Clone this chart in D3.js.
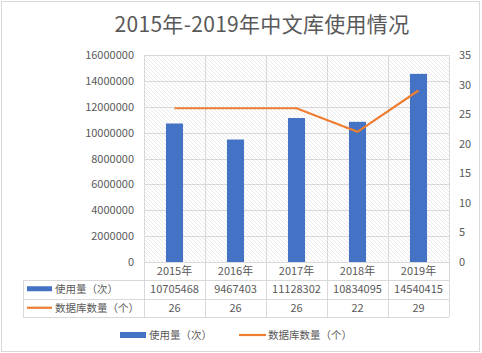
<!DOCTYPE html>
<html>
<head>
<meta charset="utf-8">
<script src="https://cdn.jsdelivr.net/npm/d3@7"></script>
<style>
	body { margin: 0; background: #fff; }
	text { font-family: "Noto Sans CJK SC", "Noto Sans", sans-serif; fill: #595959; }
</style>
</head>
<body>
<div id="graphic"></div>
<script>
// chart data
let years = ['2015年', '2016年', '2017年', '2018年', '2019年'];
let usage = [10705468, 9467403, 11128302, 10834095, 14540415];
let dbCount = [26, 26, 26, 22, 29];
let seriesNames = ['使用量（次）', '数据库数量（个）'];
let leftTicks = [0, 2000000, 4000000, 6000000, 8000000, 10000000, 12000000, 14000000, 16000000];
let rightTicks = [0, 5, 10, 15, 20, 25, 30, 35];

const width = 482, height = 353;
const margin = { top: 55, right: 33, bottom: 91, left: 144 };
const chart_width = width - margin.left - margin.right;
const chart_height = height - margin.top - margin.bottom;
const blue = '#4472C4', orange = '#ED7D31', grid = '#d9d9d9';

const svgRoot = d3.select('#graphic')
	.append('svg')
	.attr('width', width)
	.attr('height', height);

// outer frame
svgRoot.append('rect')
	.attr('x', 1.5).attr('y', 1.5)
	.attr('width', width - 4).attr('height', height - 3)
	.attr('fill', '#fff')
	.attr('stroke', grid);

// hatch pattern for the plot area
const pattern = svgRoot.append('defs')
	.append('pattern')
	.attr('id', 'hatch')
	.attr('patternUnits', 'userSpaceOnUse')
	.attr('width', 4).attr('height', 4);
pattern.append('path')
	.attr('d', 'M0,0L4,4M-1,3L1,5M3,-1L5,1')
	.attr('stroke', '#e2e2e2')
	.attr('stroke-width', 0.7);

// title
svgRoot.append('text')
	.attr('x', 262)
	.attr('y', 32)
	.attr('text-anchor', 'middle')
	.style('font-size', '21px')
	.style('letter-spacing', '0.3px')
	.attr('fill', '#666')
	.text('2015年-2019年中文库使用情况');

const svg = svgRoot.append('g')
	.attr('transform', 'translate(' + margin.left + ',' + margin.top + ')');

// scales
const x = d3.scaleBand().domain(years).range([0, chart_width]).paddingInner(0).paddingOuter(0);
const y = d3.scaleLinear().domain([0, 16000000]).range([chart_height, 0]);
const y2 = d3.scaleLinear().domain([0, 35]).range([chart_height, 0]);

svg.append('rect')
	.attr('width', chart_width)
	.attr('height', chart_height)
	.attr('fill', 'url(#hatch)');

// gridlines
svg.append('g')
	.selectAll('line')
	.data(leftTicks)
	.join('line')
	.attr('x1', 0).attr('x2', chart_width)
	.attr('y1', d => Math.round(y(d)) + 0.5).attr('y2', d => Math.round(y(d)) + 0.5)
	.attr('stroke', grid);

const bounds = years.map(d => x(d)).concat([chart_width]);
const tableBottom = chart_height + 55;
svg.append('g')
	.selectAll('line')
	.data(bounds)
	.join('line')
	.attr('x1', d => Math.round(d) + 0.5).attr('x2', d => Math.round(d) + 0.5)
	.attr('y1', 0).attr('y2', tableBottom)
	.attr('stroke', grid);

// axes labels
const yAxis = d3.axisLeft(y).tickValues(leftTicks).tickSize(0).tickPadding(10).tickFormat(d3.format('d'));
svg.append('g').attr('class', 'y axis').call(yAxis)
	.call(g => g.select('.domain').remove())
	.selectAll('text').style('font-size', '11px').attr('fill', '#595959');

const yAxis2 = d3.axisRight(y2).tickValues(rightTicks).tickSize(0).tickPadding(10);
svg.append('g').attr('class', 'y axis').attr('transform', 'translate(' + chart_width + ',0)').call(yAxis2)
	.call(g => g.select('.domain').remove())
	.selectAll('text').style('font-size', '11px').attr('fill', '#595959');

// bars
const barW = x.bandwidth() * 0.28;
svg.append('g')
	.selectAll('rect')
	.data(usage)
	.join('rect')
	.attr('x', (d, i) => x(years[i]) + (x.bandwidth() - barW) / 2)
	.attr('y', d => y(d))
	.attr('width', barW)
	.attr('height', d => chart_height - y(d))
	.attr('fill', blue);

// line
const line = d3.line()
	.x((d, i) => x(years[i]) + x.bandwidth() / 2)
	.y(d => y2(d));
svg.append('path')
	.datum(dbCount)
	.attr('d', line)
	.attr('fill', 'none')
	.attr('stroke', orange)
	.attr('stroke-width', 2.2);

// data table
const tLeft = 23 - margin.left;
const rowTop = chart_height + 18, rowH = 18.5;
svg.append('g')
	.selectAll('line')
	.data([rowTop, rowTop + rowH, rowTop + 2 * rowH])
	.join('line')
	.attr('x1', tLeft).attr('x2', chart_width)
	.attr('y1', d => Math.round(d) + 0.5).attr('y2', d => Math.round(d) + 0.5)
	.attr('stroke', grid);
svg.append('line')
	.attr('x1', tLeft + 0.5).attr('x2', tLeft + 0.5)
	.attr('y1', rowTop).attr('y2', rowTop + 2 * rowH)
	.attr('stroke', grid);

svg.append('g')
	.selectAll('text')
	.data(years)
	.join('text')
	.attr('x', d => x(d) + x.bandwidth() / 2)
	.attr('y', chart_height + 13)
	.attr('text-anchor', 'middle')
	.style('font-size', '11px')
	.text(d => d);

[usage, dbCount].forEach((vals, r) => {
	const cy = rowTop + rowH * r + rowH / 2 + 4;
	svg.append('g')
		.selectAll('text')
		.data(vals)
		.join('text')
		.attr('x', (d, i) => x(years[i]) + x.bandwidth() / 2)
		.attr('y', cy)
		.attr('text-anchor', 'middle')
		.style('font-size', '11px')
		.text(d => d);
	if (r === 0) {
		svg.append('rect').attr('x', tLeft + 4).attr('y', cy - 7).attr('width', 25).attr('height', 5).attr('fill', blue);
	} else {
		svg.append('line').attr('x1', tLeft + 4).attr('x2', tLeft + 29).attr('y1', cy - 4).attr('y2', cy - 4)
			.attr('stroke', orange).attr('stroke-width', 2.2);
	}
	svg.append('text')
		.attr('x', tLeft + 32)
		.attr('y', cy)
		.style('font-size', '10.5px')
		.text(seriesNames[r]);
});

// legend
const legend = svgRoot.append('g').attr('transform', 'translate(0,335)');
legend.append('rect').attr('x', 120).attr('y', -3).attr('width', 26).attr('height', 6).attr('fill', blue);
legend.append('text').attr('x', 149).attr('y', 4).style('font-size', '10.5px').text(seriesNames[0]);
legend.append('line').attr('x1', 239).attr('x2', 266).attr('y1', 0).attr('y2', 0)
	.attr('stroke', orange).attr('stroke-width', 2.2);
legend.append('text').attr('x', 268).attr('y', 4).style('font-size', '10.5px').text(seriesNames[1]);
</script>
</body>
</html>
